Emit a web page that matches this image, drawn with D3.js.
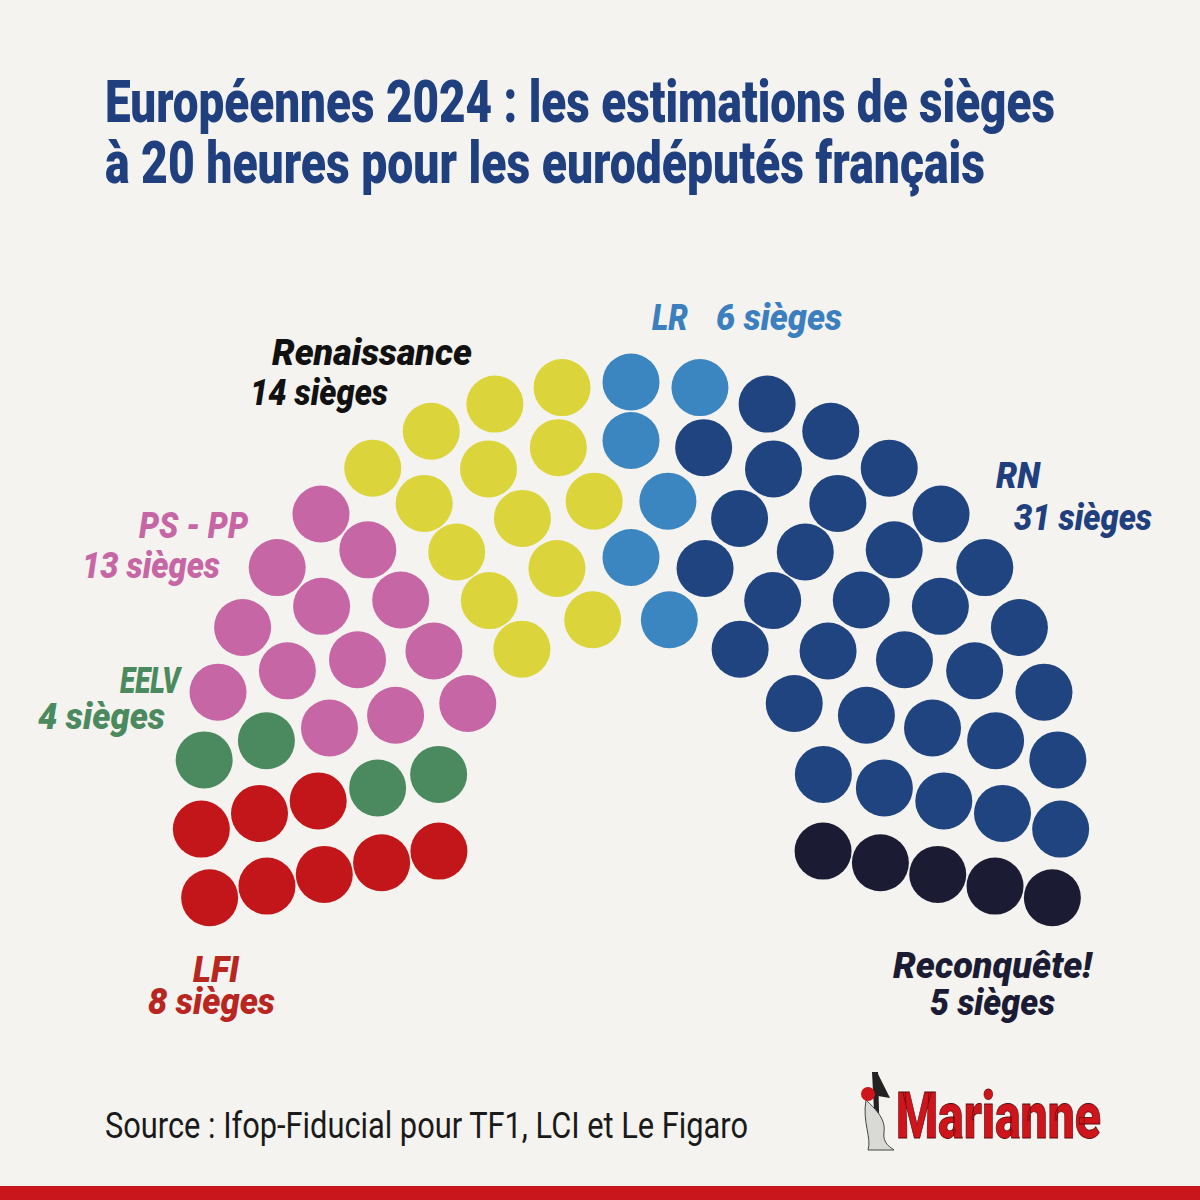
<!DOCTYPE html>
<html>
<head>
<meta charset="utf-8">
<script src="https://cdn.jsdelivr.net/npm/d3@7"></script>
<style>
body{margin:0;background:#f4f3ef;}
svg{display:block;}
</style>
</head>
<body>
<div id="chart"></div>
<script>
// parties from left to right of the hemicycle
const parties = ["LFI", "EELV", "PS - PP", "Renaissance", "LR", "RN", "Reconquête!"];
const seats = [8, 4, 13, 14, 6, 31, 5];
const colors = ["#c3161a", "#4b8a5f", "#c766a5", "#dbd43a", "#3b86c0", "#1f4480", "#1b1c33"];
const labelColors = ["#b8261f", "#4b8a5f", "#c766a5", "#111111", "#3b7fbf", "#1f3f7f", "#1b1c33"];

const title = ["Européennes 2024 : les estimations de sièges", "à 20 heures pour les eurodéputés français"];
const source = "Source : Ifop-Fiducial pour TF1, LCI et Le Figaro";

const width = 1200;
const height = 1200;

// hemicycle layout
const center = {x: 631, y: 812};
const rowSeats = [23, 19, 16, 13, 10]; // seats on each arc, outer to inner
const dotR = 28.5;

// label placement: [x, baseline, width]
const labelPos = [
  {name: [193, 982, 46],  count: [148, 1014, 127]},
  {name: [120, 693, 60],  count: [38, 729, 127]},
  {name: [139, 538, 109], count: [82, 578, 138]},
  {name: [272, 365, 200], count: [250, 405, 138]},
  {name: [652, 330, 36],  count: [716, 330, 126]},
  {name: [996, 488, 44],  count: [1014, 530, 138]},
  {name: [893, 978, 199], count: [930, 1015, 125]}
];

const svg = d3.select("#chart")
  .append("svg")
    .attr("width", width)
    .attr("height", height)
    .attr("viewBox", `0 0 ${width} ${height}`);

svg.append("rect")
  .attr("width", width)
  .attr("height", height)
  .attr("fill", "#f4f3ef");

//title
svg.selectAll(".title")
  .data(title)
  .join("text")
  .attr("class", "title")
  .attr("x", 105)
  .attr("y", (d, i) => 122 + i * 61)
  .attr("textLength", (d, i) => i === 0 ? 950 : 880)
  .attr("lengthAdjust", "spacingAndGlyphs")
  .attr("fill", "#1f3f7f")
  .style("font-family", "Roboto, 'Liberation Sans', sans-serif")
  .style("font-weight", 900)
  .style("font-size", "60px")
  .text(d => d);

// seat positions: every arc spread on the same angles, then sorted left to right
const radius = d3.scaleLinear().domain([0, rowSeats.length - 1]).range([430, 196]);

let places = [];
rowSeats.forEach(function(n, row) {
  const angle = d3.scaleLinear().domain([0, n - 1]).range([-11.5, 191.5]);
  d3.range(n).forEach(function(k) {
    const a = angle(k) * Math.PI / 180;
    places.push({
      row: row,
      angle: Math.round(angle(k) * 1000) / 1000,
      x: center.x - radius(row) * Math.cos(a),
      y: center.y - radius(row) * Math.sin(a)
    });
  });
});
places.sort((a, b) => d3.ascending(a.angle, b.angle) || d3.descending(a.row, b.row));

const owner = parties.flatMap((p, i) => d3.range(seats[i]).map(() => p));
places.forEach((d, i) => d.party = owner[i]);

const color = d3.scaleOrdinal().domain(parties).range(colors);
const labelColor = d3.scaleOrdinal().domain(parties).range(labelColors);

svg.append("g")
  .selectAll("circle")
  .data(places)
  .join("circle")
  .attr("cx", d => d.x)
  .attr("cy", d => d.y)
  .attr("r", dotR)
  .attr("fill", d => color(d.party));

// party labels
const labels = svg.append("g")
  .style("font-family", "Roboto, 'Liberation Sans', sans-serif")
  .style("font-weight", 900)
  .style("font-style", "italic")
  .style("font-size", "37px");

parties.forEach(function(p, i) {
  const pos = labelPos[i];
  labels.append("text")
    .attr("x", pos.name[0])
    .attr("y", pos.name[1])
    .attr("textLength", pos.name[2])
    .attr("lengthAdjust", "spacingAndGlyphs")
    .attr("fill", labelColor(p))
    .text(p);
  labels.append("text")
    .attr("x", pos.count[0])
    .attr("y", pos.count[1])
    .attr("textLength", pos.count[2])
    .attr("lengthAdjust", "spacingAndGlyphs")
    .attr("fill", labelColor(p))
    .text(seats[i] + " sièges");
});

// source
svg.append("text")
  .attr("x", 105)
  .attr("y", 1138)
  .attr("textLength", 643)
  .attr("lengthAdjust", "spacingAndGlyphs")
  .attr("fill", "#1a1a1a")
  .style("font-family", "Roboto, 'Liberation Sans', sans-serif")
  .style("font-size", "36px")
  .text(source);

// Marianne logo
const logo = svg.append("g");
logo.append("path")
  .attr("d", "M872,1072 L876,1150 L880,1150 L878,1072 Z")
  .attr("fill", "#222");
logo.append("path")
  .attr("d", "M877,1072 L890,1098 L878,1096 Z")
  .attr("fill", "#222");
logo.append("path")
  .attr("d", "M866,1100 C874,1108 886,1118 884,1132 C882,1144 892,1148 894,1150 L868,1150 C872,1138 862,1122 866,1100 Z")
  .attr("fill", "#d9d9d6")
  .attr("stroke", "#444")
  .attr("stroke-width", 1);
logo.append("circle")
  .attr("cx", 868)
  .attr("cy", 1094)
  .attr("r", 7)
  .attr("fill", "#d0141b");
logo.append("text")
  .attr("x", 896)
  .attr("y", 1138)
  .attr("textLength", 205)
  .attr("lengthAdjust", "spacingAndGlyphs")
  .attr("fill", "#d0141b")
  .attr("stroke", "#5a0a0c")
  .attr("stroke-width", 0.8)
  .style("font-family", "Roboto, 'Liberation Sans', sans-serif")
  .style("font-weight", 900)
  .style("font-size", "64px")
  .text("Marianne");

// bottom bar
svg.append("rect")
  .attr("x", 0)
  .attr("y", 1186)
  .attr("width", width)
  .attr("height", 14)
  .attr("fill", "#c8161c");
</script>
</body>
</html>
